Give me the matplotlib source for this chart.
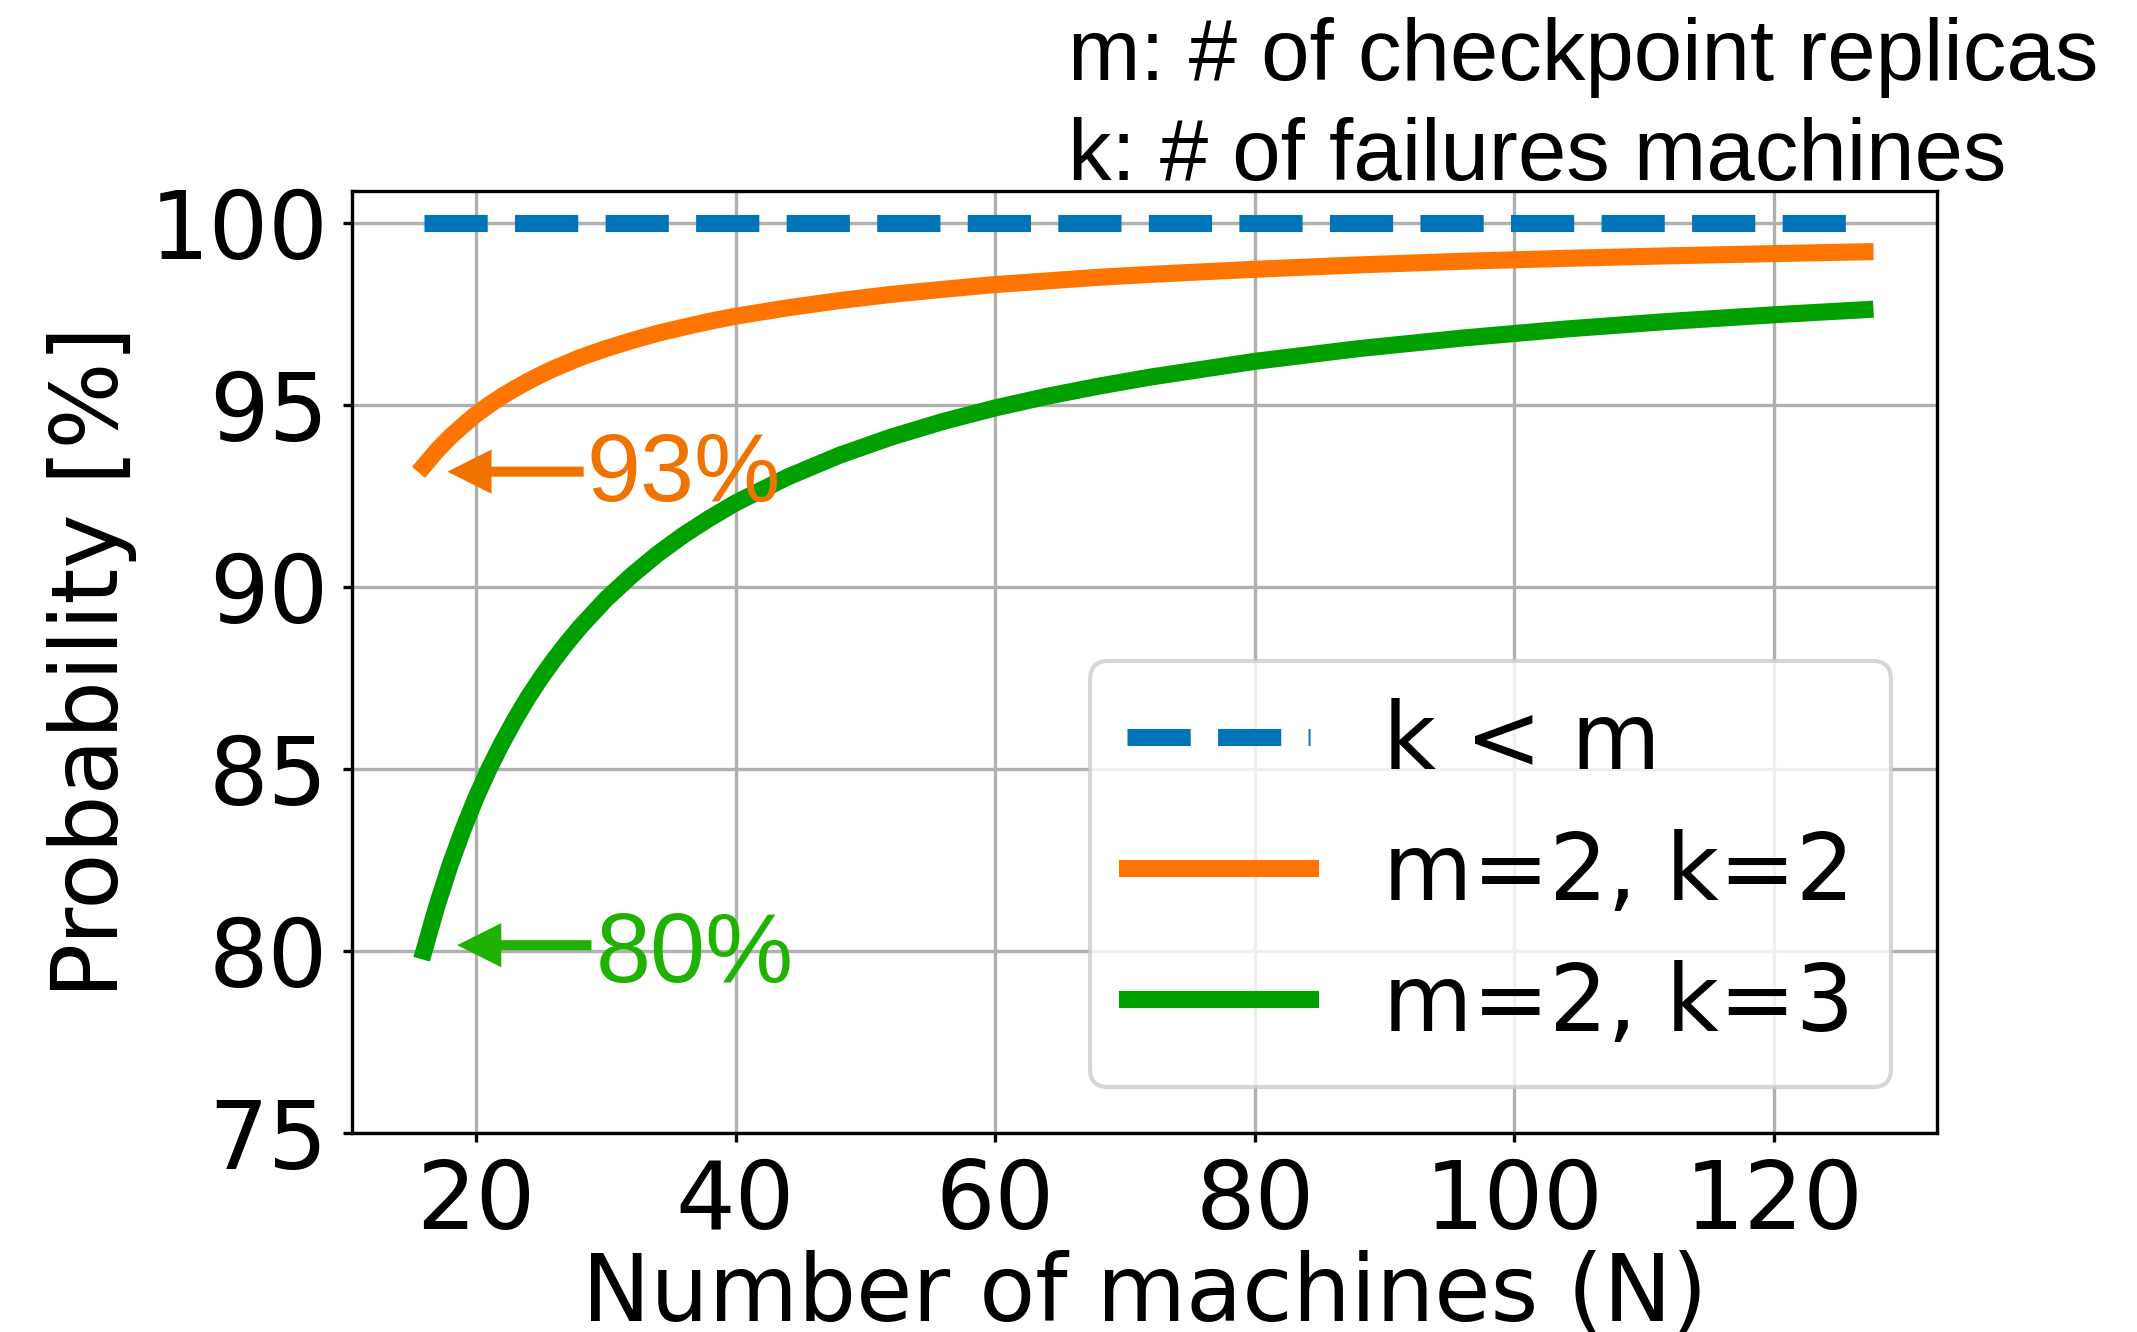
import matplotlib
matplotlib.use("Agg")
import matplotlib.pyplot as plt

# ---- data ----
N = [16, 17, 18, 19, 20, 21, 22, 23, 24, 25, 26, 27, 28, 30, 32, 34, 36, 38,
     40, 44, 48, 52, 56, 60, 64, 68, 72, 80, 88, 96, 104, 112, 120, 127]
p_m2_k2 = [93.33, 93.75, 94.12, 94.44, 94.74, 95.00, 95.24, 95.45, 95.65,
           95.83, 96.00, 96.15, 96.30, 96.55, 96.77, 96.97, 97.14, 97.30,
           97.44, 97.67, 97.87, 98.04, 98.18, 98.31, 98.41, 98.51, 98.59,
           98.73, 98.85, 98.95, 99.03, 99.10, 99.16, 99.21]
p_m2_k3 = [80.00, 81.25, 82.35, 83.33, 84.21, 85.00, 85.71, 86.36, 86.96,
           87.50, 88.00, 88.46, 88.89, 89.66, 90.32, 90.91, 91.43, 91.89,
           92.31, 93.02, 93.62, 94.12, 94.55, 94.92, 95.24, 95.52, 95.77,
           96.20, 96.55, 96.84, 97.09, 97.30, 97.48, 97.62]
N_dash = [16, 127]
p_k_lt_m = [100, 100]

labels = ["k < m", "m=2, k=2", "m=2, k=3"]
yticks = [75, 80, 85, 90, 95, 100]
xticks = [20, 40, 60, 80, 100, 120]
note_lines = ["m: # of checkpoint replicas", "k: # of failures machines"]

# ---- style ----
C_BLUE = "#0173b7"
C_ORANGE = "#ff7500"
C_GREEN = "#00a000"
C_ORANGE_TXT = "#f07300"
C_GREEN_TXT = "#20b200"

fig = plt.figure(figsize=(2137 / 300, 1332 / 300), dpi=300)
ax = fig.add_axes([0.1647, 0.1494, 0.9064 - 0.1647, 0.8566 - 0.1494])

LW = 4.1
ax.plot(N_dash, p_k_lt_m, "--", color=C_BLUE, lw=LW, label=labels[0])
ax.plot(N, p_m2_k2, "-", color=C_ORANGE, lw=LW, label=labels[1])
ax.plot(N, p_m2_k3, "-", color=C_GREEN, lw=LW, label=labels[2])

ax.set_ylim(75, 100.88)
ax.set_yticks(yticks)
ax.set_xticks(xticks)
ax.tick_params(labelsize=22.5, length=2.2, pad=3.5)
ax.grid(True)
ax.set_xlabel("Number of machines (N)", fontsize=22, labelpad=0.3)
ax.set_ylabel("Probability [%]", fontsize=22, labelpad=3)

ax.legend(loc="lower right", fontsize=22, labelspacing=0.45)

# annotations
helv = ["Liberation Sans", "DejaVu Sans"]
arrow_kw = dict(arrowstyle="simple,head_length=1.06,head_width=1.06,tail_width=0.24",
                mutation_scale=10, lw=0, shrinkA=0, shrinkB=0)
ax.annotate("", xy=(17.8, 93.17), xytext=(28.3, 93.17),
            arrowprops=dict(color=C_ORANGE_TXT, **arrow_kw))
ax.text(28.5, 92.37, "93%", color=C_ORANGE_TXT, fontsize=23.3,
        family=helv, ha="left", va="baseline")
ax.annotate("", xy=(18.55, 80.16), xytext=(28.9, 80.16),
            arrowprops=dict(color=C_GREEN_TXT, **arrow_kw))
ax.text(29.2, 79.15, "80%", color=C_GREEN_TXT, fontsize=23.8,
        family=helv, ha="left", va="baseline")

fig.text(0.4998, 1 - 80 / 1332, note_lines[0], fontsize=20.9, family=helv,
         ha="left", va="baseline")
fig.text(0.4998, 1 - 180 / 1332, note_lines[1], fontsize=20.9, family=helv,
         ha="left", va="baseline")

fig.savefig("out.png", dpi=300)
